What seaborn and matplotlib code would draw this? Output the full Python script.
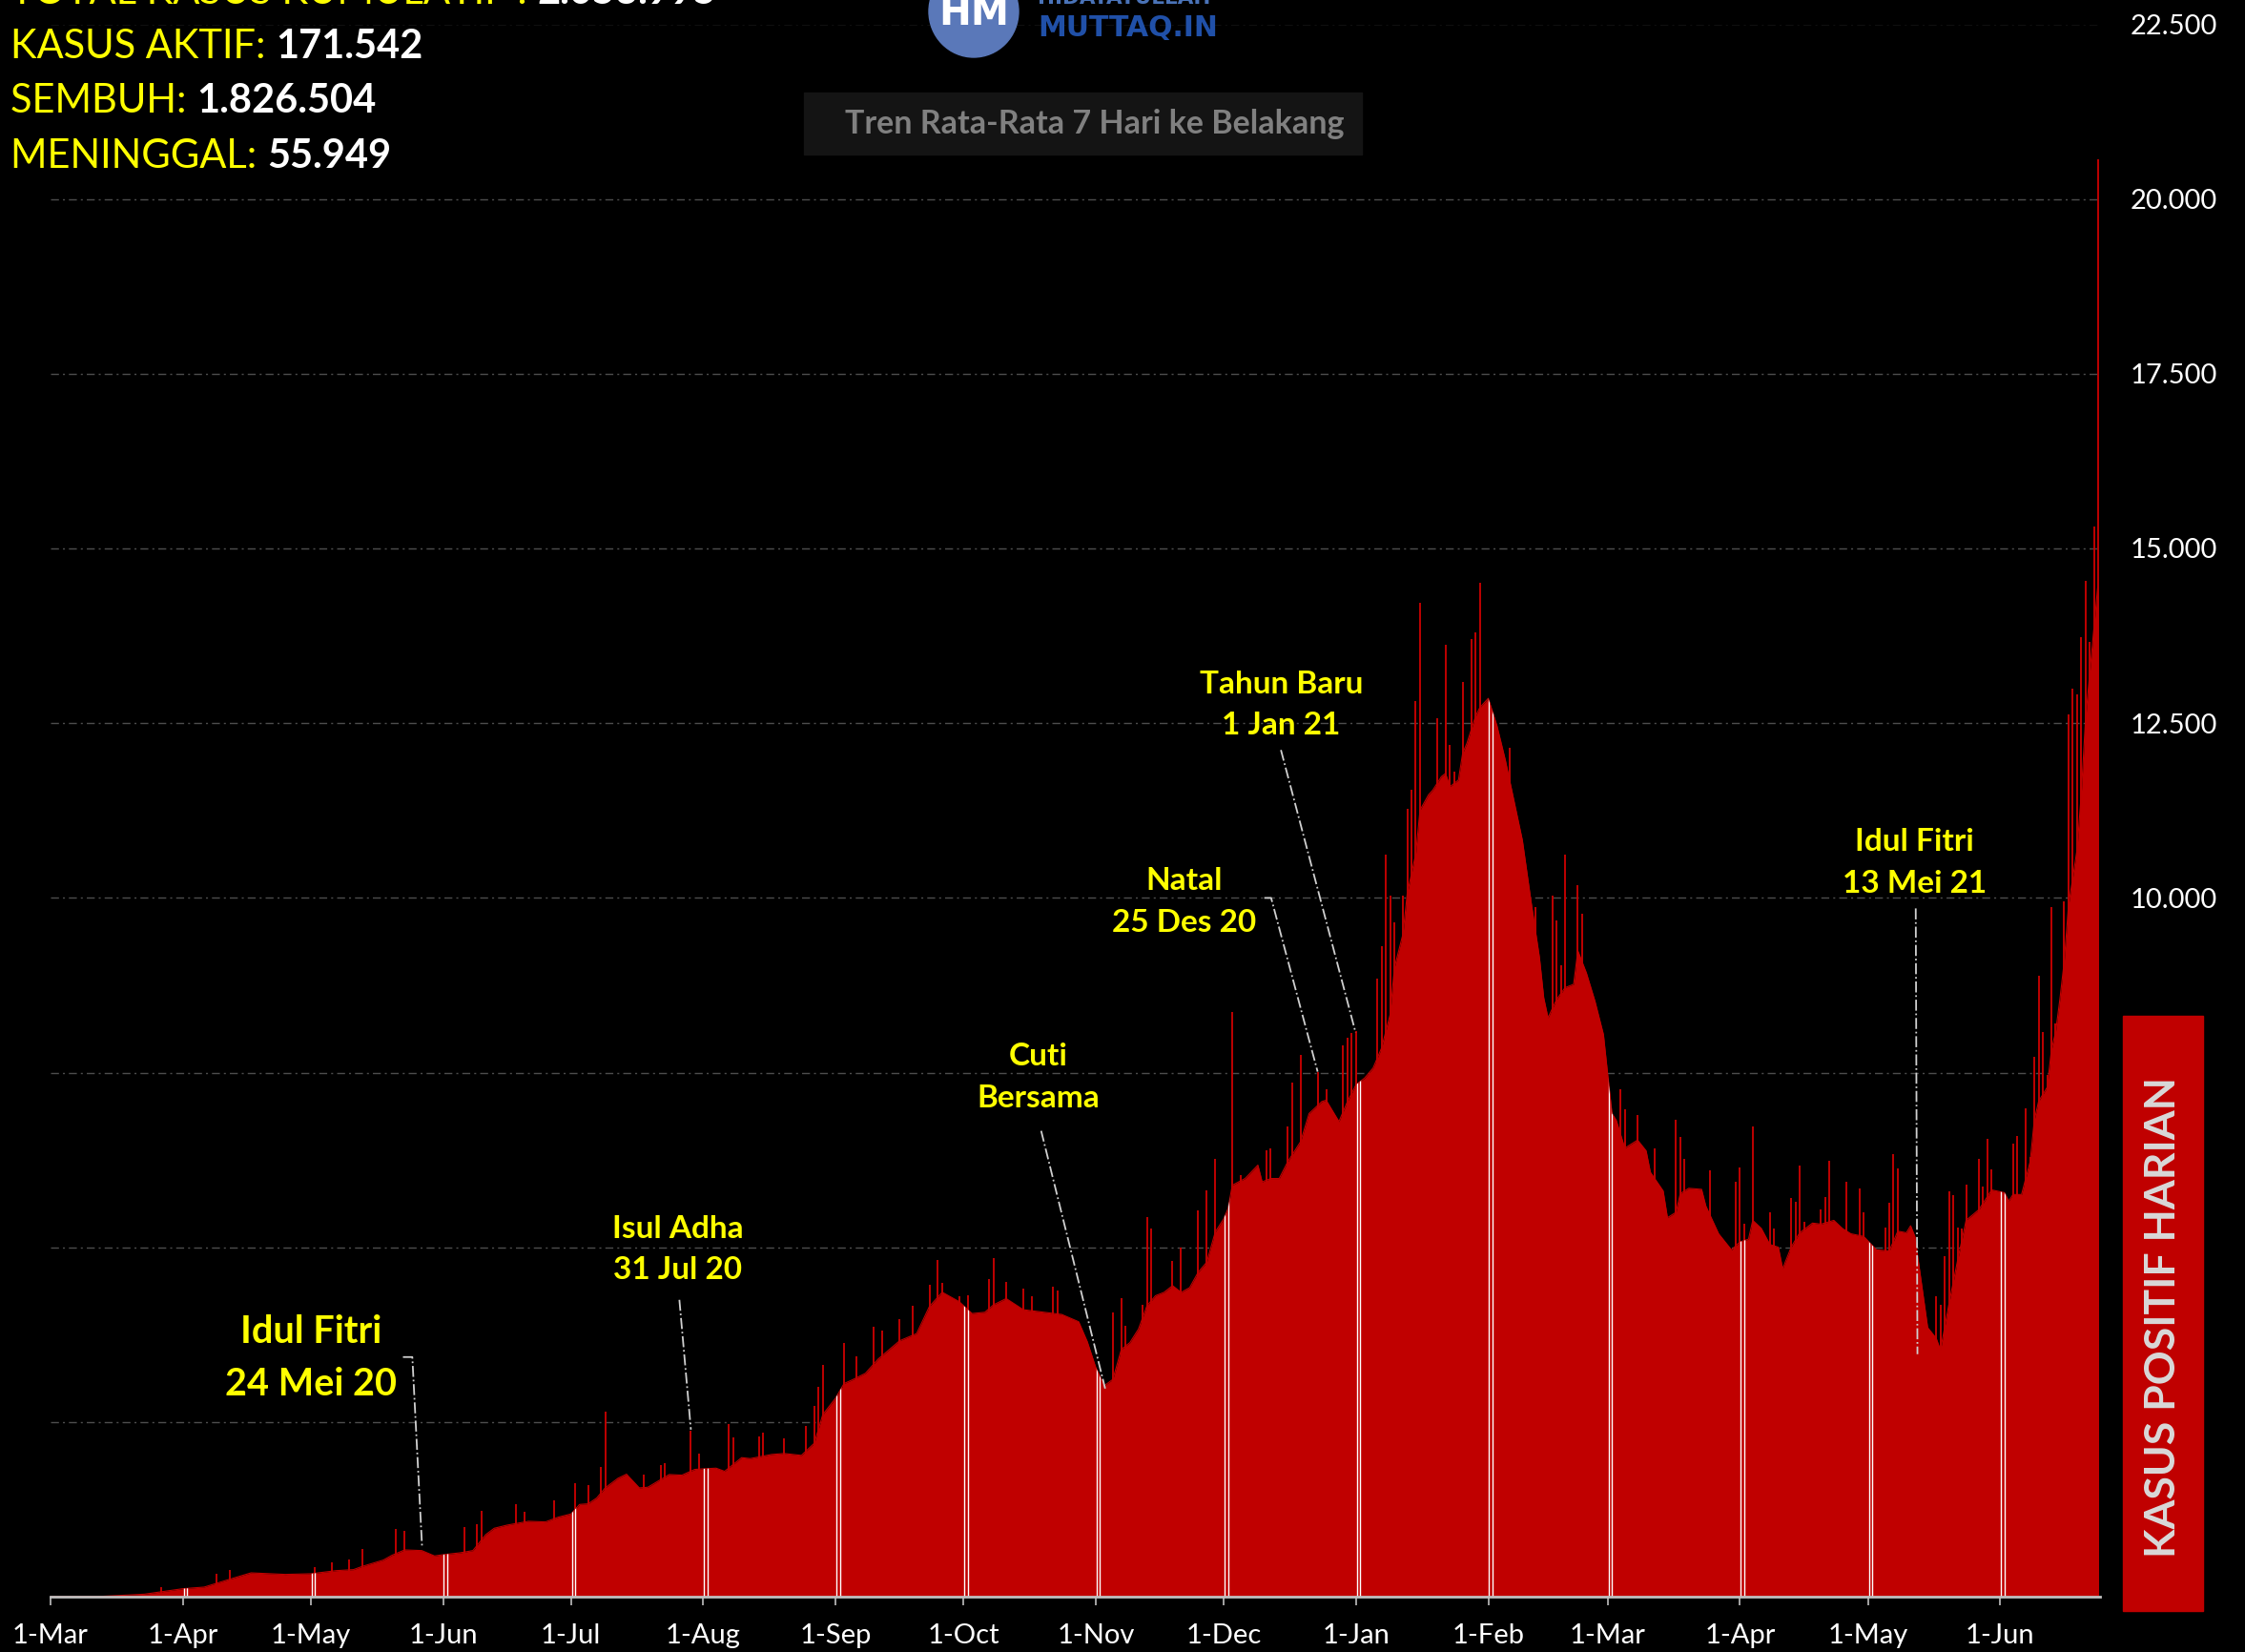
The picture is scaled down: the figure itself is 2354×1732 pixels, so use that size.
# Kasus positif harian COVID-19 Indonesia, Mar 2020 - Jun 2021
import pandas as pd
import matplotlib
matplotlib.use("Agg")
import matplotlib.pyplot as plt
import matplotlib.patches as mpatches
import seaborn as sns

start_date = pd.Timestamp("2020-03-01")

# Rata-rata 7 hari: hari ke-n sejak 1 Mar 2020, jumlah kasus
avg_day = [0, 12, 22, 31, 36, 42, 47, 55, 61, 67, 71, 73, 78, 80, 83, 87, 90, 92, 96, 99,
           102, 104, 107, 112, 116, 119, 122, 124, 126, 128, 130, 133, 135, 138, 140, 145,
           148, 151, 153, 156, 158, 162, 164, 169, 172, 176, 179, 181, 184, 186, 188, 191,
           194, 199, 203, 206, 209, 213, 216, 219, 221, 224, 228, 234, 237, 241, 243, 245,
           247, 249, 251, 253, 255, 257, 259, 261, 263, 265, 267, 269, 271, 273, 275, 276,
           277, 280, 283, 284, 286, 288, 290, 293, 295, 298, 299, 302, 304, 306, 308, 310,
           312, 314, 315, 317, 318, 320, 321, 323, 324, 326, 327, 328, 330, 331, 332, 334,
           335, 337, 339, 341, 343, 345, 347, 349, 350, 351, 353, 355, 357, 358, 360, 362,
           364, 365, 366, 367, 369, 372, 374, 375, 378, 379, 381, 382, 384, 387, 388, 391,
           394, 396, 398, 399, 401, 403, 405, 406, 408, 410, 413, 415, 418, 420, 422, 425,
           428, 431, 433, 435, 436, 437, 440, 442, 443, 445, 447, 449, 452, 455, 458, 459,
           460, 462, 464, 465, 466, 468, 469, 470, 471, 472, 473, 475, 476, 477, 478, 479, 480]
avg_cases = [0, 5, 36, 114, 137, 250, 341, 319, 328, 373, 387, 432, 524, 592, 669, 660, 583, 601, 628, 660,
             888, 979, 1024, 1079, 1070, 1138, 1184, 1320, 1329, 1411, 1557, 1694, 1753, 1557, 1566, 1748,
             1739, 1821, 1830, 1839, 1794, 1990, 1976, 2035, 2049, 2022, 2195, 2604, 2841, 3050, 3105, 3196,
             3401, 3661, 3765, 4152, 4357, 4221, 4052, 4070, 4175, 4266, 4107, 4061, 4039, 3934, 3651, 3280,
             3020, 3109, 3540, 3636, 3828, 4163, 4307, 4355, 4451, 4355, 4422, 4642, 4786, 5217, 5409, 5553,
             5888, 5984, 6176, 5936, 5984, 5984, 6224, 6511, 6914, 7086, 7105, 6799, 7086, 7326, 7421, 7565,
             7853, 8332, 9003, 9481, 10057, 10632, 11255, 11475, 11542, 11734, 11782, 11590, 11686, 12069, 12213, 12596,
             12721, 12855, 12472, 11973, 11398, 10823, 9961, 9146, 8571, 8284, 8543, 8715, 8763, 9242, 8926, 8524,
             8044, 7469, 6914, 6818, 6419, 6534, 6381, 6074, 5806, 5423, 5500, 5768, 5844, 5829, 5591, 5193,
             4963, 5078, 5116, 5385, 5270, 5040, 5001, 4694, 5001, 5208, 5346, 5331, 5385, 5270, 5193, 5155,
             4963, 4948, 5231, 5208, 5308, 5155, 3851, 3698, 3529, 4196, 4809, 5385, 5538, 5821, 5782, 5662,
             5755, 5755, 6222, 6822, 7088, 7288, 7821, 8088, 8555, 9088, 9888, 10687, 11487, 12553, 13220, 13887, 14553]

# Kasus harian yang menonjol di atas rata-rata
spike_day = [26, 39, 42, 62, 66, 70, 73, 81, 83, 97, 100, 101, 109, 111, 118, 123, 126, 129, 130,
             139, 143, 144, 150, 152, 159, 160, 166, 167, 172, 177, 179, 180, 181, 186, 189, 193, 195,
             199, 202, 206, 208, 209, 213, 215, 220, 221, 224, 228, 230, 235, 236, 249, 251, 252, 256,
             257, 258, 263, 265, 269, 271, 273, 277, 279, 285, 286, 290, 291, 293, 297, 299, 303, 304,
             305, 306, 311, 312, 313, 314, 315, 317, 318, 319, 320, 321, 325, 327, 328, 329, 331, 333,
             334, 335, 342, 348, 352, 353, 354, 355, 358, 359, 368, 369, 372, 376, 381, 382, 383, 389,
             395, 396, 397, 399, 403, 404, 408, 409, 410, 411, 415, 416, 417, 421, 424, 425, 430, 431,
             432, 433, 442, 443, 444, 445, 446, 447, 448, 449, 452, 453, 454, 455, 460, 461, 463, 464,
             465, 466, 467, 468, 469, 470, 472, 473, 474, 475, 476, 477, 478, 479, 480]
spike_cases = [137, 328, 387, 423, 487, 533, 683, 965, 947, 993, 1038, 1229, 1329, 1220, 1375, 1625, 1594, 1853, 2650,
               1748, 1885, 1912, 2377, 2044, 2468, 2277, 2299, 2345, 2272, 2445, 2732, 3005, 3310, 3629, 3438, 3865, 3806,
               3970, 4166, 4462, 4822, 4494, 4298, 4312, 4549, 4844, 4503, 4412, 4298, 4435, 4380, 4070, 4266, 3879, 4182,
               5438, 5265, 4805, 4997, 5534, 5821, 6271, 8370, 6032, 6386, 6415, 6731, 7354, 7757, 7507, 7258, 7891, 7996,
               8063, 8092, 8849, 9309, 10613, 10038, 9645, 10038, 11274, 11542, 12817, 14216, 12568, 13622, 12184, 11801, 13095, 13698,
               13794, 14513, 12146, 9865, 10028, 9673, 9031, 10613, 10182, 9769, 7258, 6971, 6895, 6420, 6826, 6573, 6266, 6098,
               5944, 6136, 5331, 6726, 5500, 5270, 5699, 5653, 6174, 5362, 5545, 5714, 6243, 5944, 5837, 5500, 5285, 5637,
               6327, 6128, 4296, 4181, 4871, 5806, 5745, 5285, 5270, 5898, 6266, 5867, 6557, 6113, 6481, 6588, 6994, 6289,
               7723, 8888, 8083, 7470, 9869, 8198, 9944, 12624, 12990, 12906, 13737, 14536, 13668, 15308, 20574]

month_ticks = ["2020-03-01", "2020-04-01", "2020-05-01", "2020-06-01", "2020-07-01", "2020-08-01",
               "2020-09-01", "2020-10-01", "2020-11-01", "2020-12-01", "2021-01-01", "2021-02-01",
               "2021-03-01", "2021-04-01", "2021-05-01", "2021-06-01"]
month_labels = ["1-Mar", "1-Apr", "1-May", "1-Jun", "1-Jul", "1-Aug", "1-Sep", "1-Oct",
                "1-Nov", "1-Dec", "1-Jan", "1-Feb", "1-Mar", "1-Apr", "1-May", "1-Jun"]

# labels below 10.000 sit behind the red label box in the original
y_ticks = [0, 2500, 5000, 7500, 10000, 12500, 15000, 17500, 20000, 22500]
y_labels = ["", "", "", "", "10.000", "12.500", "15.000", "17.500", "20.000", "22.500"]

summary_labels = ["TOTAL KASUS KUMULATIF : ", "KASUS AKTIF: ", "SEMBUH: ", "MENINGGAL: "]
summary_values = ["2.053.995", "171.542", "1.826.504", "55.949"]

event_labels = ["Idul Fitri\n24 Mei 20", "Isul Adha\n31 Jul 20", "Cuti\nBersama",
                "Natal\n25 Des 20", "Tahun Baru\n1 Jan 21", "Idul Fitri\n13 Mei 21"]

RED = "#C00000"
YELLOW = "#FFFF00"
W, H = 2354, 1732


def to_date(d):
    return start_date + pd.Timedelta(days=d)


def fpos(x, y):
    # pixel position (from top-left) to figure fraction
    return x / W, 1 - y / H


sns.set_theme(style="dark", rc={"axes.facecolor": "black", "figure.facecolor": "black"})
plt.rcParams["font.family"] = ["Lato", "DejaVu Sans"]

df_avg = pd.DataFrame({"tanggal": [to_date(d) for d in avg_day], "kasus": avg_cases})
df_spike = pd.DataFrame({"tanggal": [to_date(d) for d in spike_day], "kasus": spike_cases})
month_dates = pd.to_datetime(month_ticks)

fig = plt.figure(figsize=(W / 100, H / 100), dpi=100)
ax = fig.add_axes([53 / W, 1 - 1674 / H, (2202 - 53) / W, (1674 - 25.5) / H])

# daily cases as thin bars
ax.vlines(df_spike["tanggal"], 0, df_spike["kasus"], color=RED, lw=1.4, zorder=2)

# 7-day average area
sns.lineplot(data=df_avg, x="tanggal", y="kasus", ax=ax, color=RED, lw=0.8, zorder=3)
area = ax.fill_between(df_avg["tanggal"], 0, df_avg["kasus"], color=RED, lw=0, zorder=3)

# white month separators, only inside the area
for shift in (0.2, 1.0):
    sep = ax.vlines(month_dates + pd.Timedelta(days=shift), 0, 22500, color="white", lw=1.0, zorder=4)
    sep.set_clip_path(area.get_paths()[0], ax.transData)

ax.set_xlim(start_date, to_date(480.4))
ax.set_ylim(0, 22500)
ax.set_xlabel("")
ax.set_ylabel("")

ax.set_xticks(month_dates)
ax.set_xticklabels(month_labels)
ax.set_yticks(y_ticks)
ax.set_yticklabels(y_labels)
ax.yaxis.tick_right()
ax.tick_params(axis="y", length=0, pad=23, labelsize=21, labelcolor="white")
ax.tick_params(axis="x", length=6.5, width=1.2, color="#BFBFBF", pad=14, labelsize=21, labelcolor="white",
               bottom=True)
ax.grid(axis="y", color="#4D4D4D", ls=(0, (6, 3, 1.5, 3)), lw=1)
ax.grid(axis="x", visible=False)
ax.set_axisbelow(True)
for side in ["top", "left", "right"]:
    ax.spines[side].set_visible(False)
ax.spines["bottom"].set_color("#BFBFBF")
ax.spines["bottom"].set_linewidth(2)
ax.spines["bottom"].set_zorder(5)

# event annotations
leader = dict(color="#D0D0D0", ls="-.", lw=1.3, zorder=6)
ev_text = dict(ha="center", va="center", color=YELLOW, weight="bold", linespacing=1.6)

ax.text(to_date(61), 3415, event_labels[0], fontsize=28.5, **ev_text)
ax.plot([to_date(82.6), to_date(84.8), to_date(87.1)], [3429, 3429, 697], **leader)

ax.text(to_date(147), 4972, event_labels[1], fontsize=24, **ev_text)
ax.plot([to_date(147.4), to_date(150.1)], [4248, 2390], **leader)

ax.text(to_date(231.6), 7431, event_labels[2], fontsize=24, **ev_text)
ax.plot([to_date(232.2), to_date(247.2)], [6666, 2978], **leader)

ax.text(to_date(265.7), 9945, event_labels[3], fontsize=24, **ev_text)
ax.plot([to_date(284.5), to_date(286.1), to_date(297)], [9999, 9999, 7513], **leader)

ax.text(to_date(288.5), 12758, event_labels[4], fontsize=24, **ev_text)
ax.plot([to_date(288.4), to_date(305.9)], [12116, 8073], **leader)

ax.text(to_date(437), 10505, event_labels[5], fontsize=24, **ev_text)
ax.plot([to_date(437.2), to_date(437.6)], [9849, 3470], **leader)

# summary numbers at the top left
for i, (lab, val) in enumerate(zip(summary_labels, summary_values)):
    t = fig.text(*fpos(11, -8.5 + 57.5 * i), lab, color=YELLOW, fontsize=30, ha="left", va="center")
    ax.annotate(val, xy=(1, 0), xycoords=t, va="bottom", ha="left", color="white",
                fontsize=30, weight="bold", annotation_clip=False)

# logo
fig.add_artist(mpatches.Ellipse(fpos(1021, 12), 94 / W, 96 / H, transform=fig.transFigure,
                                color="#5A78B9", zorder=5))
fig.text(*fpos(1021, 15), "HM", color="white", fontsize=29, weight="bold", ha="center", va="center",
         family="DejaVu Sans", zorder=6)
fig.text(*fpos(1088, 4), "HIDAYATULLAH", color="#4A73B8", fontsize=15.5, weight="bold", ha="left",
         va="baseline", family="DejaVu Sans")
fig.text(*fpos(1088, 38), "MUTTAQ.IN", color="#2050A8", fontsize=21.5, weight="bold", ha="left",
         va="baseline", family="DejaVu Sans")

# subtitle box
fig.add_artist(mpatches.Rectangle(fpos(843, 162), 585 / W, 65 / H, transform=fig.transFigure,
                                  color="#141414", zorder=5))
fig.text(*fpos(1148, 130), "Tren Rata-Rata 7 Hari ke Belakang", color="#808080", fontsize=24.5,
         weight="bold", ha="center", va="center", zorder=6)

# vertical red label box
fig.add_artist(mpatches.Rectangle(fpos(2226, 1689), 84 / W, 624 / H, transform=fig.transFigure,
                                  color=RED, zorder=5))
fig.text(*fpos(2268, 1381), "KASUS POSITIF HARIAN", color="#D9D9D9", fontsize=32, weight="bold",
         rotation=90, ha="center", va="center", zorder=6)

fig.savefig("out.png", dpi=100, facecolor="black")
